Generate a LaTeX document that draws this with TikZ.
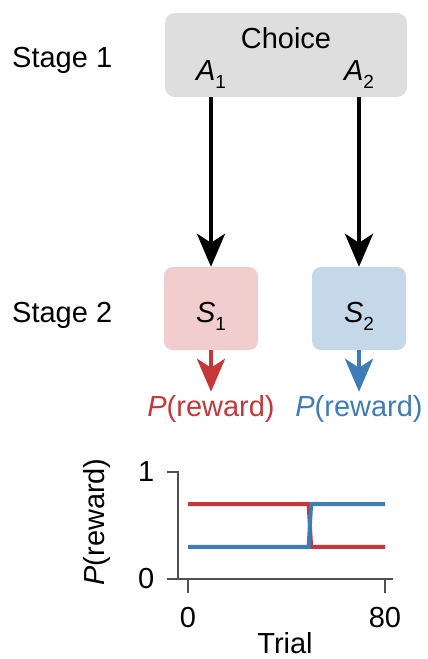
\documentclass[tikz,border=0pt]{standalone}
\usepackage{fontspec}
\setmainfont{Liberation Sans}
\usetikzlibrary{positioning,arrows.meta}

\definecolor{rewred}{RGB}{200,55,55}
\definecolor{rewblue}{RGB}{62,124,184}
\definecolor{choicegray}{RGB}{222,222,222}
\definecolor{pinkfill}{RGB}{242,205,206}
\definecolor{bluefill}{RGB}{197,216,233}
\definecolor{axisgray}{RGB}{80,80,80}

\newcommand{\lowsub}[1]{\raisebox{-8pt}{\fontsize{19}{19}\selectfont #1}}

\begin{document}
\begin{tikzpicture}[x=1pt,y=-1pt]
% Define styles for nodes and edges
\tikzstyle{txt} = [font=\fontsize{29}{34}\selectfont, inner sep=0pt]
\tikzstyle{choicebox} = [rectangle, rounded corners=10pt, fill=choicegray, minimum width=242pt, minimum height=84pt]
\tikzstyle{statebox} = [txt, rectangle, rounded corners=9pt, minimum width=94pt, minimum height=83pt, text height=27pt, text depth=0pt]
\tikzstyle{rewlab} = [txt, inner sep=3pt]
\tikzstyle{arrow} = [line width=4.5pt, -{Stealth[length=33pt, width=28pt, inset=9pt]}]
\tikzstyle{axis} = [line width=1.5pt, draw=axisgray]
\tikzstyle{curve} = [line width=4pt]

\useasboundingbox (0,0) rectangle (428,659);

% Nodes
\node[txt, anchor=base west] (stage1) at (12,67) {Stage 1};
\node[txt, anchor=base west] (stage2) at (12,322) {Stage 2};

\node[choicebox] (choice) at (286,55) {};
\node[txt, anchor=base] (choicelab) at (286,48) {Choice};
\node[txt, anchor=base] (a1) at (211,80) {\textit{A}\lowsub{1}};
\node[txt, anchor=base] (a2) at (359,80) {\textit{A}\lowsub{2}};

\node[statebox, fill=pinkfill] (s1) at (211,308.5) {\textit{S}\lowsub{1}};
\node[statebox, fill=bluefill] (s2) at (359,308.5) {\textit{S}\lowsub{2}};

\node[rewlab, rewred, anchor=base] (r1) at (211,416) {\textit{P}(reward)};
\node[rewlab, rewblue, anchor=base] (r2) at (359,416) {\textit{P}(reward)};

% Edges
\draw[arrow] (choice.south -| a1) -- (s1);
\draw[arrow] (choice.south -| a2) -- (s2);
\draw[arrow, rewred] (s1) -- (r1);
\draw[arrow, rewblue] (s2) -- (r2);

% Reward schedule
\begin{scope}[shift={(188,579)}, x=2.4625pt, y=107pt]
\draw[axis] (-4.06,0) -- (-4.06,1) -- (-8.5,1);
\draw[axis] (-8.5,0) -- (83.2,0);
\draw[axis] (0,0) -- (0,-0.131);
\draw[axis] (80,0) -- (80,-0.131);
\draw[curve, rewred] (0,0.7) -- (49,0.7) -- (50,0.3) -- (80,0.3);
\draw[curve, rewblue] (0,0.3) -- (49,0.3) -- (50,0.7) -- (80,0.7);
\node[txt] (ytick1) at (-17,1) {1};
\node[txt] (ytick0) at (-17,0) {0};
\node[txt] (xtick0) at (0,-0.364) {0};
\node[txt] (xtick80) at (80,-0.364) {80};
\node[txt] (xlab) at (39.4,-0.598) {Trial};
\node[txt, rotate=90] (ylab) at (-36.95,0.533) {\textit{P}(reward)};
\end{scope}
\end{tikzpicture}
\end{document}
